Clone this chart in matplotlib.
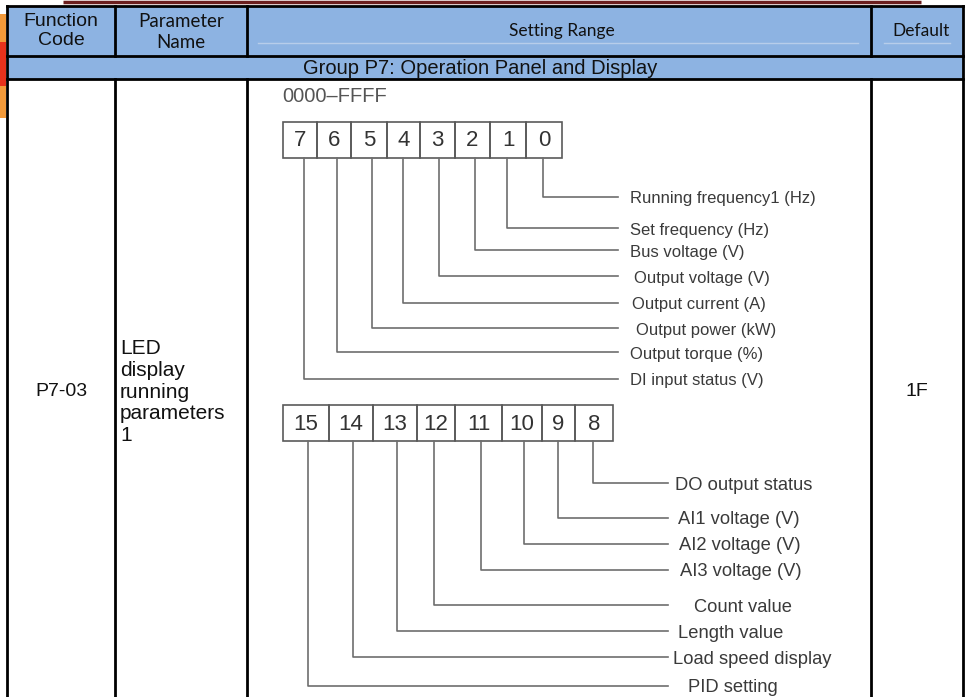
import matplotlib.pyplot as plt
from matplotlib.patches import Rectangle

# Данные таблицы
headers = ["Function\nCode", "Parameter\nName", "Setting Range", "Default"]
group_title = "Group P7: Operation Panel and Display"
func_code = "P7-03"
param_name = "LED\ndisplay\nrunning\nparameters\n1"
setting_range = "0000–FFFF"
default_value = "1F"

# Биты и их назначение (младший байт и старший байт)
low_bits = [7, 6, 5, 4, 3, 2, 1, 0]
low_labels = ["Running frequency1 (Hz)", "Set frequency (Hz)", "Bus voltage (V)",
              "Output voltage (V)", "Output current (A)", "Output power (kW)",
              "Output torque (%)", "DI input status (V)"]  # bit 0..7
high_bits = [15, 14, 13, 12, 11, 10, 9, 8]
high_labels = ["DO output status", "AI1 voltage (V)", "AI2 voltage (V)", "AI3 voltage (V)",
               "Count value", "Length value", "Load speed display", "PID setting"]  # bit 8..15

# Разметка (в пикселях картинки)
W, H = 965, 697
col_x = [7, 115, 247, 871, 963]
row_y = [6, 56, 79]
low_edges = [283, 317, 351, 387, 420, 455, 490, 526, 562]
low_lead_x = [304, 337, 372, 403, 439, 475, 507, 543]          # bit 7..0
low_lead_y = [197, 228, 250, 276, 303, 328, 352, 379]          # bit 0..7
low_text_x = [630, 630, 630, 634, 632, 636, 630, 630]
high_edges = [283, 329, 373, 417, 455, 502, 542, 575, 613]
high_lead_x = [308, 353, 397, 434, 481, 524, 558, 593]         # bit 15..8
high_lead_y = [483, 518, 544, 570, 605, 631, 657, 686]         # bit 8..15
high_text_x = [675, 678, 679, 680, 694, 678, 673, 688]

fig = plt.figure(figsize=(9.65, 6.97), dpi=100)
ax = fig.add_axes([0, 0, 1, 1])
ax.set_xlim(0, W)
ax.set_ylim(H, 0)
ax.axis('off')

sans = ['Liberation Sans', 'DejaVu Sans']
calib = ['Lato', 'DejaVu Sans']

# Декор слева и полоса сверху
ax.add_patch(Rectangle((0, 14), 6, 104, color='#F39A3A', lw=0))
ax.add_patch(Rectangle((0, 42), 6, 44, color='#E8321C', lw=0))
ax.plot([63, 921], [1.5, 1.5], color='#6B1E1E', lw=2.5, solid_capstyle='butt')

# Шапка таблицы
ax.add_patch(Rectangle((col_x[0], row_y[0]), col_x[-1] - col_x[0], row_y[2] - row_y[0],
                       color='#8DB3E2', lw=0))
ax.plot([258, 858], [43, 43], color='#B7CDEA', lw=1)
ax.plot([884, 950], [43, 43], color='#B7CDEA', lw=1)

lc = 'black'
lw = 2.0
for y in row_y:
    ax.plot([col_x[0], col_x[-1]], [y, y], color=lc, lw=lw)
for i, x in enumerate(col_x):
    if i in (0, len(col_x) - 1):
        ax.plot([x, x], [row_y[0], H], color=lc, lw=lw)
    else:
        ax.plot([x, x], [row_y[0], row_y[1]], color=lc, lw=lw)
        ax.plot([x, x], [row_y[2], H], color=lc, lw=lw)

hy = (row_y[0] + row_y[1]) / 2
ax.text(61, hy, headers[0], ha='center', va='center', fontsize=14, family=sans,
        linespacing=1.2, color='#111111')
ax.text(181, hy + 1, headers[1], ha='center', va='center', fontsize=13.5, family=calib,
        linespacing=1.25, color='#111111')
ax.text(562, hy, headers[2], ha='center', va='center', fontsize=12.5, family=calib, color='#111111')
ax.text(921, hy, headers[3], ha='center', va='center', fontsize=12.5, family=calib, color='#111111')
ax.text(480, (row_y[1] + row_y[2]) / 2 + 1, group_title, ha='center', va='center',
        fontsize=14.5, family=sans, color='#111111')

# Строка параметра
ax.text(61, 392, func_code, ha='center', va='center', fontsize=14, family=sans, color='#111111')
ax.text(120, 392, param_name, ha='left', va='center', fontsize=15, family=sans,
        linespacing=1.17, color='#111111')
ax.text(917, 392, default_value, ha='center', va='center', fontsize=14, family=sans, color='#111111')

# Диаграмма битов
gray = '#6E6E6E'
tcol = '#3A3A3A'
ax.text(282, 97, setting_range, ha='left', va='center', fontsize=14.5, family=sans, color='#555555')


def draw_bits(edges, bits, top, bottom, lead_x, lead_y, line_end, labels, text_x, fs, bfs):
    for i, b in enumerate(bits):
        ax.add_patch(Rectangle((edges[i], top), edges[i + 1] - edges[i], bottom - top,
                               fill=False, ec='#5A5A5A', lw=1.2))
        ax.text((edges[i] + edges[i + 1]) / 2, (top + bottom) / 2 + 1, str(b),
                ha='center', va='center', fontsize=bfs, family=sans, color='#333333')
    n = len(bits)
    for k in range(n):
        x = lead_x[n - 1 - k]
        y = lead_y[k]
        ax.plot([x, x, line_end], [bottom, y, y], color=gray, lw=1.2)
        ax.text(text_x[k], y + 2, labels[k], ha='left', va='center', fontsize=fs,
                family=sans, color=tcol)


draw_bits(low_edges, low_bits, 122, 158, low_lead_x, low_lead_y, 618,
          low_labels, low_text_x, 12, 16)
draw_bits(high_edges, high_bits, 405, 441, high_lead_x, high_lead_y, 668,
          high_labels, high_text_x, 13.2, 16)

fig.savefig('out.png', dpi=100)
